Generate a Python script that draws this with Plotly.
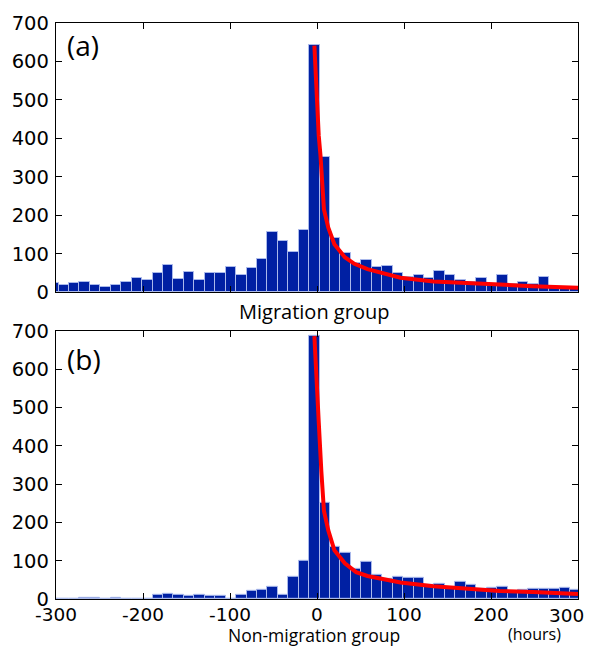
import plotly.graph_objects as go

# ---------------- data ----------------
bin_centers = list(range(-303, 298, 12))  # 12-hour bins, centred at -303 ... 297

migration_counts = [24, 20, 23, 28, 19, 14, 20, 28, 38, 33,
                    49, 71, 35, 53, 33, 51, 49, 66, 46, 63,
                    86, 157, 134, 104, 163, 642, 352, 141, 102, 75,
                    84, 67, 69, 51, 40, 44, 36, 56, 46, 32,
                    26, 36, 22, 44, 21, 27, 21, 41, 15, 13, 13]

nonmigration_counts = [1, 1, 1, 3, 3, 1, 3, 1, 1, 1,
                       10, 13, 11, 8, 11, 9, 8, 1, 11, 21,
                       25, 32, 11, 58, 100, 686, 252, 136, 121, 80,
                       98, 64, 52, 58, 56, 55, 37, 39, 28, 45,
                       37, 26, 29, 32, 20, 24, 26, 27, 26, 30, 23]

fit_hours_a = [-3, -0.5, 2, 4, 6, 8, 13, 20, 32, 43, 58, 96, 134, 172, 210, 248, 300]
fit_values_a = [641, 493, 407, 356, 279, 215, 168, 125, 91, 74, 60, 38, 28, 23, 20, 16, 12]

fit_hours_b = [-3, -0.5, 2, 5, 8, 13, 20, 32, 45, 58, 96, 134, 172, 210, 248, 300]
fit_values_b = [686, 591, 462, 333, 230, 179, 127, 93, 70, 60, 43, 33, 26, 21, 18, 13]

x_ticks = [-300, -200, -100, 0, 100, 200, 300]
x_tick_labels = ["-300", "-200", "-100", "0", "100", "200", ""]
last_x_label = "300"
y_ticks = [0, 100, 200, 300, 400, 500, 600, 700]

# ---------------- style ----------------
BAR_COLOR = "rgb(0,32,163)"
BAR_EDGE = "rgb(170,185,235)"
TICK_FONT = dict(family="DejaVu Sans", size=19.5, color="black")
XTICK_FONT = dict(family="DejaVu Sans", size=18.5, color="black")
LABEL_FONT = "Open Sans"

fig = go.Figure()

for counts, fx, fy, xa, ya in [
    (migration_counts, fit_hours_a, fit_values_a, "x", "y"),
    (nonmigration_counts, fit_hours_b, fit_values_b, "x2", "y2"),
]:
    fig.add_trace(go.Bar(
        x=bin_centers, y=counts, width=12,
        marker=dict(color=BAR_COLOR, line=dict(color=BAR_EDGE, width=1)),
        xaxis=xa, yaxis=ya, showlegend=False,
    ))
    fig.add_trace(go.Scatter(
        x=fx, y=fy, mode="lines",
        line=dict(color="rgb(255,0,0)", width=4),
        xaxis=xa, yaxis=ya, showlegend=False,
    ))

common_x = dict(range=[-300, 300], tickvals=x_ticks, ticktext=x_tick_labels,
                ticks="inside", ticklen=6,
                tickwidth=1.3, tickcolor="black", showline=True, linecolor="black",
                linewidth=1.3, mirror="ticks", showgrid=False, zeroline=False,
                tickfont=XTICK_FONT, ticklabeloverflow="allow", ticklabelstandoff=-1)
common_y = dict(range=[0, 700], tickvals=y_ticks, ticks="inside", ticklen=6,
                tickwidth=1.3, tickcolor="black", showline=True, linecolor="black",
                linewidth=1.3, mirror="ticks", showgrid=False, zeroline=False,
                tickfont=TICK_FONT, ticklabelstandoff=2)

fig.update_layout(
    width=591, height=647,
    margin=dict(l=52, r=12, t=16, b=48),
    paper_bgcolor="white", plot_bgcolor="white",
    bargap=0,
    xaxis=dict(common_x, domain=[0, 1], anchor="y", showticklabels=False),
    yaxis=dict(common_y, domain=[0.5325, 1], anchor="x"),
    xaxis2=dict(common_x, domain=[0, 1], anchor="y2", showticklabels=True),
    yaxis2=dict(common_y, domain=[0, 0.4656], anchor="x2"),
    annotations=[
        dict(text=last_x_label, x=300, y=0, xref="x2", yref="y2",
             xanchor="right", yanchor="top", xshift=8, yshift=-4, showarrow=False,
             font=XTICK_FONT),
        dict(text="(a)", x=0.018, y=0.962, xref="paper", yref="paper",
             xanchor="left", yanchor="middle", showarrow=False,
             font=dict(family=LABEL_FONT, size=28, color="black")),
        dict(text="(b)", x=0.018, y=0.417, xref="paper", yref="paper",
             xanchor="left", yanchor="middle", showarrow=False,
             font=dict(family=LABEL_FONT, size=28, color="black")),
        dict(text="Migration group", x=0.495, y=0.499, xref="paper", yref="paper",
             xanchor="center", yanchor="middle", showarrow=False,
             font=dict(family=LABEL_FONT, size=20, color="black")),
        dict(text="Non-migration group", x=0.494, y=0.0, yshift=-36,
             xref="paper", yref="paper",
             xanchor="center", yanchor="middle", showarrow=False,
             font=dict(family=LABEL_FONT, size=17.5, color="black")),
        dict(text="(hours)", x=0.9165, y=0.0, yshift=-35,
             xref="paper", yref="paper",
             xanchor="center", yanchor="middle", showarrow=False,
             font=dict(family=LABEL_FONT, size=16, color="black")),
    ],
)

fig.write_html("out.html")
